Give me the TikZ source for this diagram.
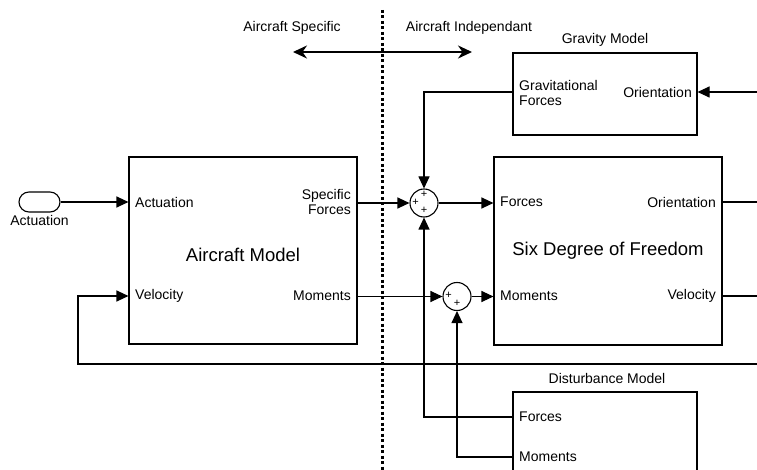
\documentclass[tikz,border=0pt]{standalone}
\usepackage{fontspec}
\setmainfont{Liberation Sans}
\usetikzlibrary{
  arrows.meta,
  positioning
}

\begin{document}
\begin{tikzpicture}[
        x=1pt, y=-1pt,
        every node/.style={font=\fontsize{14}{15}\selectfont},
        block/.style={draw, line width=1.1pt, inner sep=0pt},
        bigtitle/.style={font=\fontsize{18.5}{20}\selectfont},
        port/.style={inner sep=0pt, align=left},
        sum/.style={draw, circle, line width=1.1pt, minimum size=28pt, inner sep=0pt},
        sign/.style={font=\fontsize{11}{11}\selectfont, inner sep=0pt},
        wire/.style={line width=1.1pt},
        sig/.style={line width=1.1pt, -{Triangle[length=12pt, width=11pt]}},
        split/.style={line width=2.2pt, {Stealth[length=14pt, width=13pt]}-{Stealth[length=14pt, width=13pt]}},
        divider/.style={line width=3pt, dash pattern=on 3pt off 2.5pt}
    ]
    \path[use as bounding box, clip] (0,0) rectangle (757,470);

    % Divider and headings
    \coordinate (divtop) at (382,10);
    \coordinate (divbot) at (382,470);
    \draw[divider] (divtop) -- (divbot);
    \node (specific) at (292,28) {Aircraft Specific};
    \node (indep) at (469,28) {Aircraft Independant};
    \coordinate (splitL) at (293,52);
    \coordinate (splitR) at (472,52);
    \draw[split] (splitL) -- (splitR);

    % Blocks
    \node[block, minimum width=228pt, minimum height=187pt] (aircraft) at (243,250.5) {};
    \node[bigtitle] at ([yshift=-4pt]aircraft.center) {Aircraft Model};
    \node[block, minimum width=228pt, minimum height=188pt] (sixdof) at (608,251) {};
    \node[bigtitle] at (sixdof.center) {Six Degree of Freedom};
    \node[block, minimum width=184pt, minimum height=82pt] (gravity) at (605,94) {};
    \node[above=3pt of gravity] {Gravity Model};
    \node[block, minimum width=184pt, minimum height=100pt] (dist) at (605,442) {};
    \node (disttitle) at (607,378) {Disturbance Model};

    % Input
    \node[draw, line width=1.1pt, rounded corners=10pt, minimum width=41pt, minimum height=20pt] (act) at (39.5,202) {};
    \node[below=3pt of act, inner sep=0pt] {Actuation};

    % Ports
    \node[port, anchor=west] (am-act) at (135,202) {Actuation};
    \node[port, anchor=west] (am-vel) at (135,296) {Velocity};
    \node[port, anchor=east, align=right] (am-frc) at (351,202) {Specific\\Forces};
    \node[port, anchor=east] (am-mom) at (351,296) {Moments};
    \node[port, anchor=west] (sd-frc) at (500,202) {Forces};
    \node[port, anchor=west] (sd-mom) at (500,296) {Moments};
    \node[port, anchor=east] (sd-ori) at (716,202) {Orientation};
    \node[port, anchor=east] (sd-vel) at (716,296) {Velocity};
    \node[port, anchor=west] (gm-frc) at (519,93) {Gravitational\\Forces};
    \node[port, anchor=east] (gm-ori) at (692,92) {Orientation};
    \node[port, anchor=west] (dm-frc) at (519,417) {Forces};
    \node[port, anchor=west] (dm-mom) at (519,457) {Moments};

    % Sums
    \node[sum] (sumF) at (424,203) {};
    \node[sign] at (424,194.5) {+};
    \node[sign] at (415.5,202) {+};
    \node[sign] at (424,210.5) {+};
    \node[sum] (sumM) at (457,296.5) {};
    \node[sign] at (448.5,295.5) {+};
    \node[sign] at (457,303.5) {+};

    % Free ends
    \coordinate (oriIn) at (757,92);
    \coordinate (oriOut) at (757,202);
    \coordinate (velOut) at (757,296);
    \coordinate (fbIn) at (757,364);
    \coordinate (fbCorner) at (78,296);

    % Arrows
    \draw[sig] (act) -- (aircraft.west |- act);
    \draw[sig] (aircraft.east |- sumF) -- (sumF);
    \draw[sig] (sumF) -- (sixdof.west |- sumF);
    \draw[sig] (gravity.west |- gm-ori) -| (sumF);
    \draw[sig] (oriIn) -- (gravity.east |- oriIn);
    \draw[sig] (aircraft.east |- sumM) -- (sumM);
    \draw[sig] (sumM) -- (sixdof.west |- sumM);
    \draw[wire] (sixdof.east |- oriOut) -- (oriOut);
    \draw[wire] (sixdof.east |- velOut) -- (velOut);
    \draw[sig] (fbIn) -| (fbCorner) -- (aircraft.west |- am-vel);
    \draw[sig] (dist.west |- dm-frc) -| (sumF);
    \draw[sig] (dist.west |- dm-mom) -| (sumM);

\end{tikzpicture}
\end{document}
